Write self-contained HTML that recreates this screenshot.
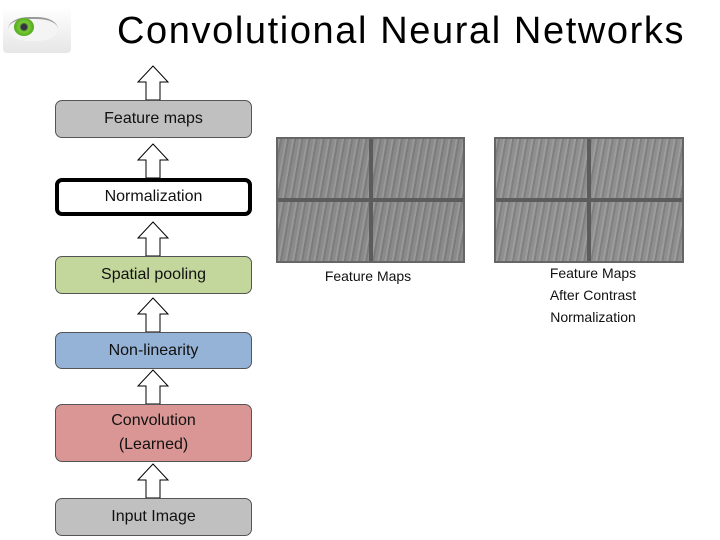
<!DOCTYPE html>
<html><head><style>
body{margin:0;width:720px;height:540px;background:#fff;position:relative;overflow:hidden;font-family:"Liberation Sans",sans-serif}
.t{position:absolute;left:117px;top:10px;font-size:38px;color:#000;letter-spacing:1.6px;white-space:nowrap}
.b{position:absolute;left:55px;width:197px;border:1px solid #555;border-radius:7px;box-sizing:border-box;display:flex;align-items:center;justify-content:center;text-align:center;font-size:16px;color:#111;line-height:24px}
.img{position:absolute;background:#8a8a8a;border:2px solid #666;box-sizing:border-box;background-image:repeating-linear-gradient(100deg,rgba(255,255,255,.12) 0 2px,rgba(0,0,0,.1) 2px 4px,transparent 4px 7px)}
.img .h{position:absolute;left:0;right:0;top:48%;height:4px;background:#5c5c5c}
.img .v{position:absolute;top:0;bottom:0;left:49%;width:4px;background:#5c5c5c}
.lab{position:absolute;font-size:14px;color:#111;text-align:center;line-height:22px}
</style></head><body>
<div style="position:absolute;left:3px;top:7px;width:68px;height:46px;background:linear-gradient(180deg,#fff,#e6e6e6);border-radius:4px"></div>
<div style="position:absolute;left:8px;top:17px;width:50px;height:22px;border-radius:50%/60%;background:#f4f4f4;border-top:2px solid #999"></div>
<div style="position:absolute;left:14px;top:18px;width:20px;height:18px;border-radius:50%;background:radial-gradient(circle,#334 20%,#7c3 35%,#5a2 70%)"></div>
<div class="t">Convolutional Neural Networks</div>
<svg width="720" height="540" style="position:absolute;left:0;top:0">
<g fill="#fff" stroke="#000" stroke-width="1">
<path id="a" d="M146,100 V82 H138 L153,66 L168,82 H160 V100 Z"/>
<use href="#a" y="78"/><use href="#a" y="156"/><use href="#a" y="232"/><use href="#a" y="304"/><use href="#a" y="398"/>
</g></svg>
<div class="b" style="top:100px;height:38px;background:#c0c0c0">Feature maps</div>
<div class="b" style="top:178px;height:38px;background:#fff;border:4px solid #000">Normalization</div>
<div class="b" style="top:256px;height:38px;background:#c3d69b">Spatial pooling</div>
<div class="b" style="top:332px;height:37px;background:#95b3d7">Non-linearity</div>
<div class="b" style="top:404px;height:58px;background:#d99694">Convolution<br>(Learned)</div>
<div class="b" style="top:498px;height:38px;background:#c0c0c0">Input Image</div>
<div class="img" style="left:276px;top:137px;width:189px;height:126px"><div class="h"></div><div class="v"></div></div>
<div class="img" style="left:494px;top:137px;width:190px;height:126px;background-color:#8f8f8f"><div class="h"></div><div class="v"></div></div>
<div class="lab" style="left:300px;top:265px;width:136px">Feature Maps</div>
<div class="lab" style="left:520px;top:262px;width:146px">Feature Maps<br>After Contrast<br>Normalization</div>
</body></html>
